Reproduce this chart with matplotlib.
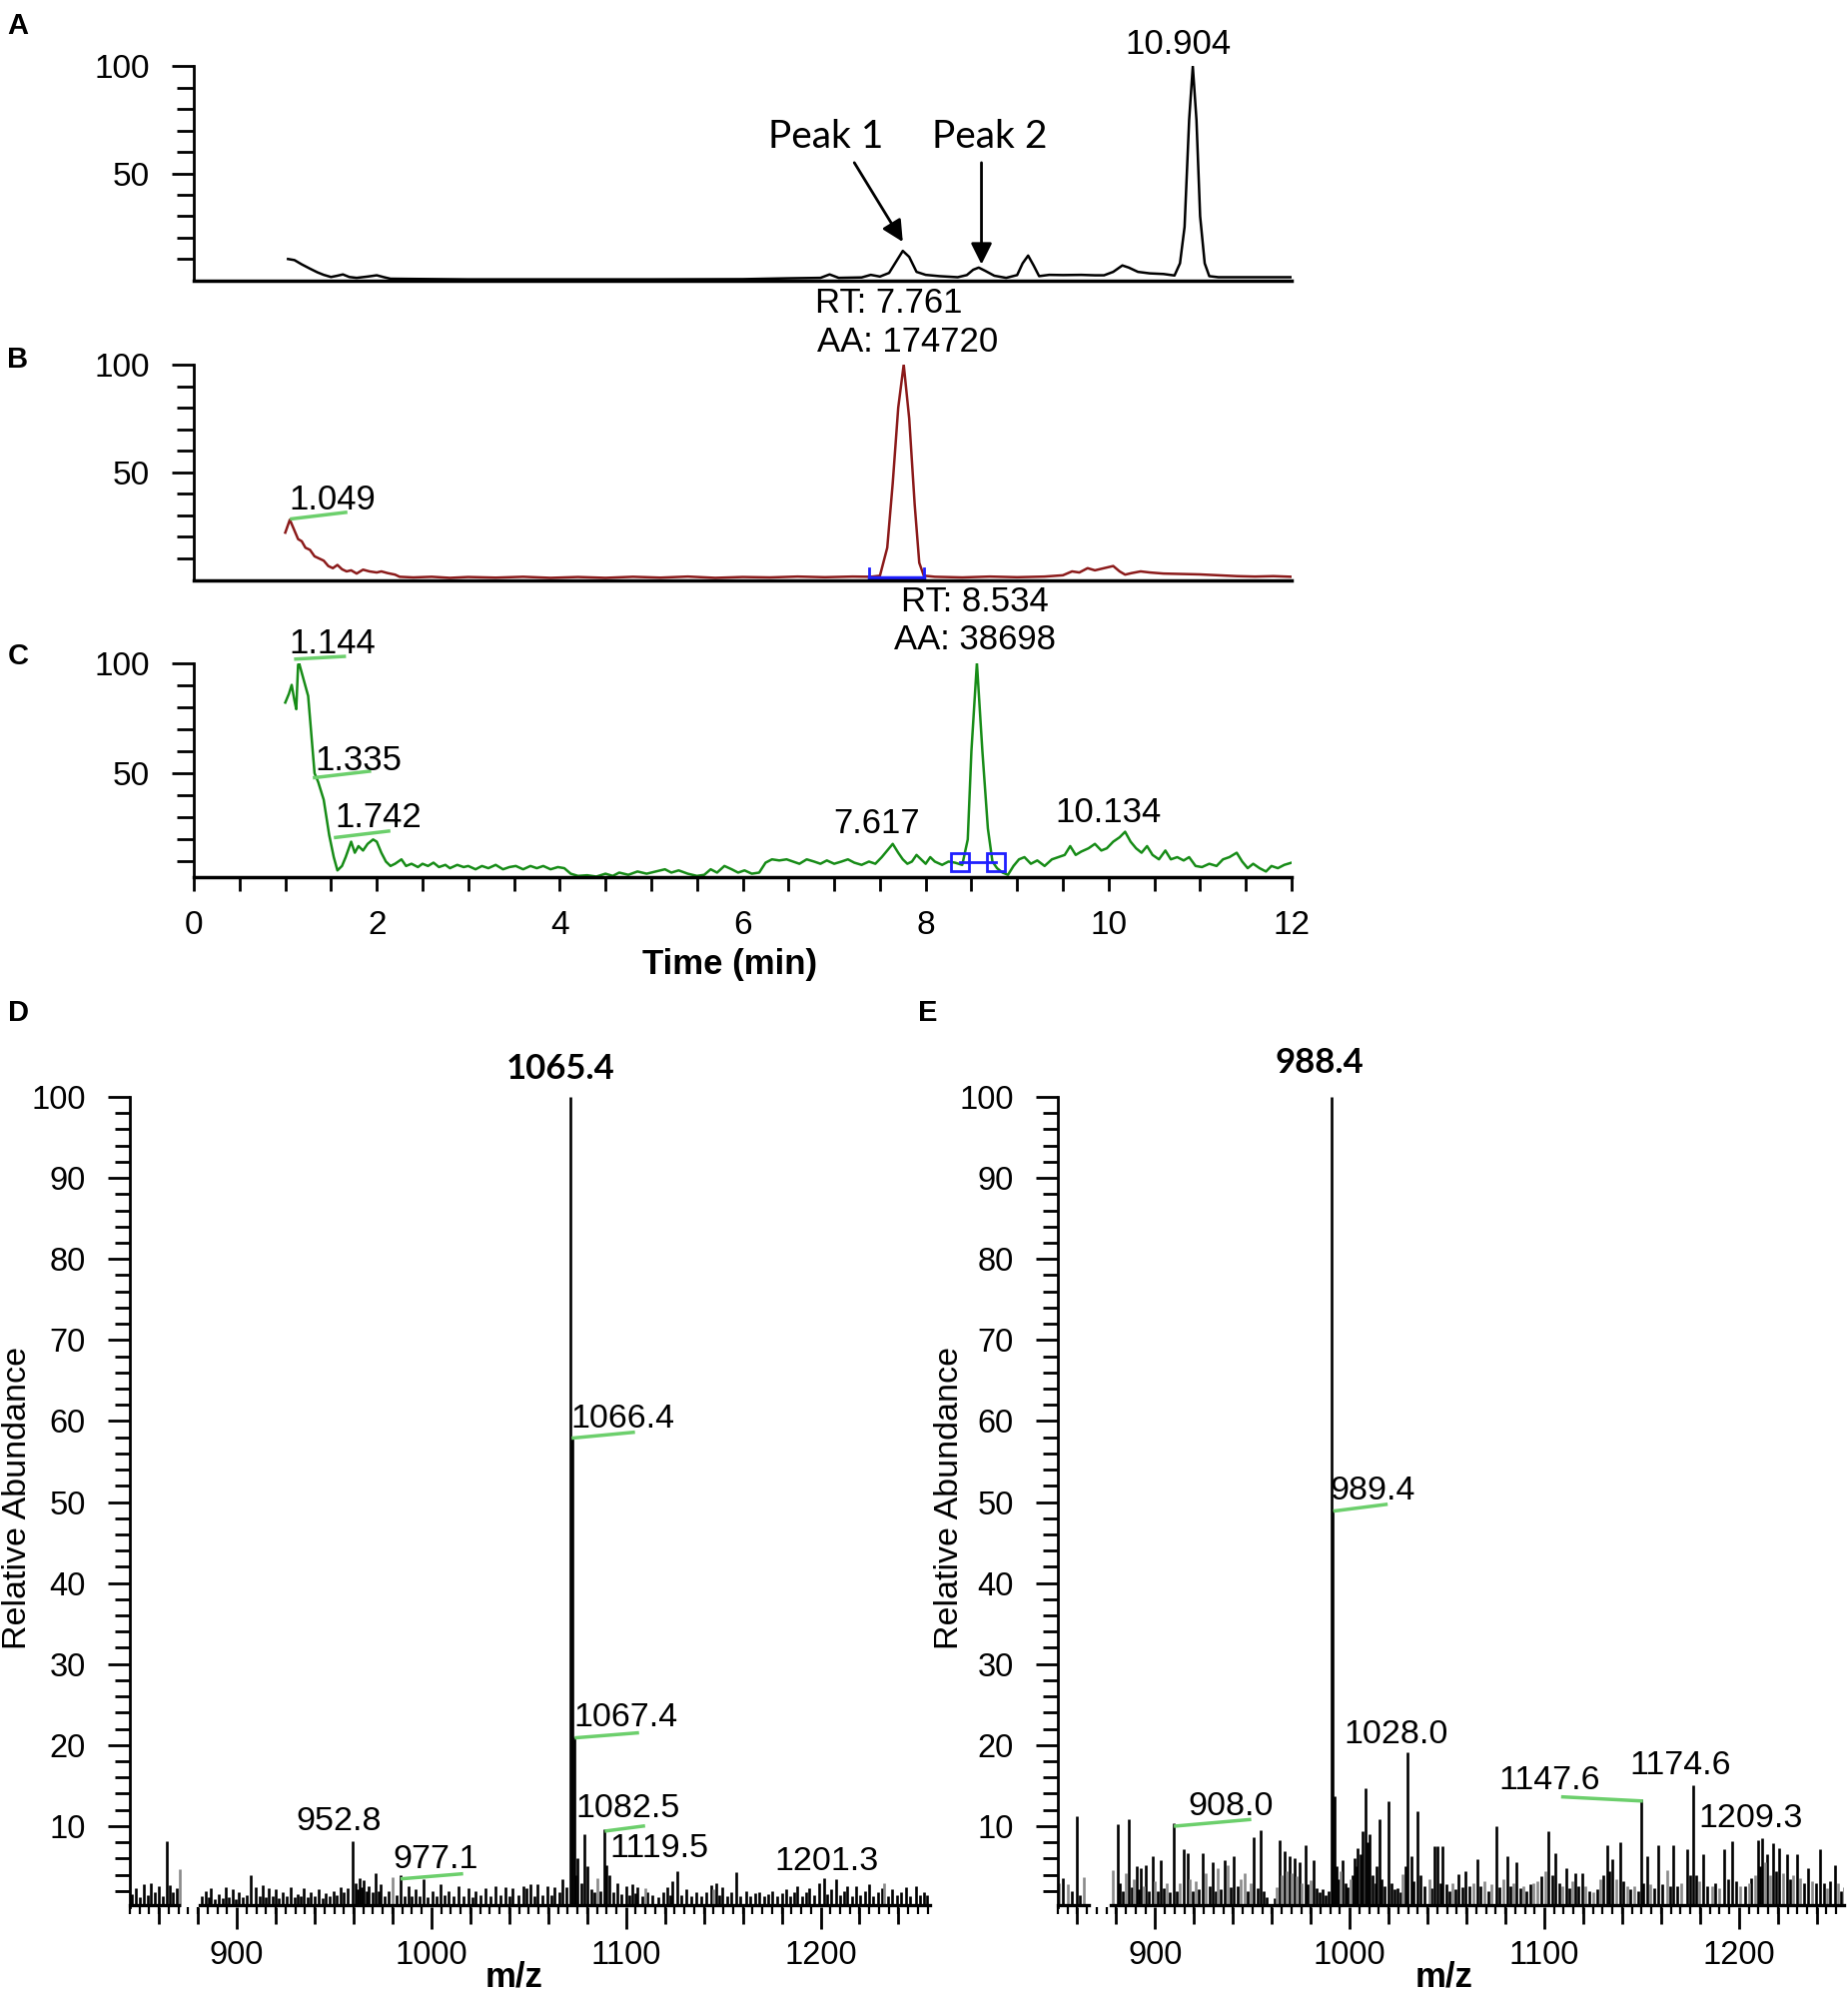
import matplotlib
matplotlib.use("Agg")
import matplotlib.pyplot as plt
from matplotlib.ticker import FixedLocator, MultipleLocator

plt.rcParams['font.family'] = ['Liberation Sans', 'DejaVu Sans']

# --- chromatogram A (total ion, black) : (time min, relative intensity)
a_trace = [
    (1.03, 10), (1.10, 9.5), (1.18, 7.5), (1.27, 5.5), (1.35, 3.8), (1.42, 2.6),
    (1.50, 1.6), (1.57, 2.2), (1.63, 2.8), (1.70, 1.6), (1.78, 1.2), (1.90, 1.8),
    (2.00, 2.4), (2.08, 1.5), (2.15, 0.8), (2.4, 0.7), (3.0, 0.5), (4.0, 0.5),
    (5.0, 0.5), (6.0, 0.6), (6.5, 1.0), (6.85, 1.2), (6.95, 2.8), (7.05, 1.2),
    (7.30, 1.4), (7.40, 2.6), (7.50, 1.8), (7.60, 3.5), (7.68, 9), (7.75, 13.8),
    (7.82, 11), (7.90, 4), (8.00, 2.6), (8.15, 2.0), (8.35, 1.5), (8.45, 2.5),
    (8.52, 5), (8.58, 6), (8.65, 4.5), (8.75, 2.2), (8.88, 1.2), (9.00, 2.5),
    (9.06, 8), (9.12, 11.6), (9.18, 7), (9.24, 2), (9.35, 2.6), (9.5, 2.5),
    (9.7, 2.6), (9.85, 2.4), (9.95, 2.4), (10.05, 4), (10.15, 7), (10.22, 6),
    (10.32, 4), (10.45, 3.3), (10.6, 3.0), (10.72, 2.3), (10.78, 8), (10.83, 25),
    (10.88, 75), (10.92, 100), (10.96, 75), (11.00, 30), (11.05, 8), (11.10, 2),
    (11.2, 1.5), (11.6, 1.5), (12.0, 1.5),
]

# --- chromatogram B (red)
b_trace = [
    (1.00, 22), (1.05, 28), (1.10, 23), (1.14, 19), (1.18, 18), (1.22, 15),
    (1.27, 14), (1.32, 11), (1.37, 10), (1.42, 9), (1.47, 6.5), (1.52, 5.5),
    (1.57, 7), (1.62, 5), (1.67, 4), (1.72, 4.5), (1.78, 3), (1.85, 4.8),
    (1.92, 4), (2.00, 3.5), (2.05, 4), (2.12, 3.2), (2.20, 2.5), (2.25, 1.5),
    (2.4, 1.2), (2.6, 1.5), (2.8, 1.0), (3.0, 1.4), (3.3, 1.1), (3.6, 1.5),
    (3.9, 1.0), (4.2, 1.4), (4.5, 1.0), (4.8, 1.5), (5.1, 1.1), (5.4, 1.6),
    (5.7, 1.0), (6.0, 1.4), (6.3, 1.2), (6.6, 1.6), (6.9, 1.3), (7.2, 1.6),
    (7.40, 1.5), (7.50, 2), (7.58, 15), (7.64, 45), (7.70, 80), (7.76, 100),
    (7.82, 75), (7.88, 35), (7.93, 8), (7.98, 2), (8.1, 1.5), (8.4, 1.2),
    (8.7, 1.6), (9.0, 1.3), (9.3, 1.6), (9.5, 2.2), (9.6, 4), (9.68, 3.5),
    (9.77, 5.5), (9.85, 4.5), (9.95, 5.5), (10.05, 6.5), (10.12, 4), (10.18, 2.5),
    (10.25, 3.2), (10.35, 4), (10.45, 3.5), (10.6, 3), (10.8, 2.8), (11.0, 2.6),
    (11.2, 2.2), (11.4, 1.8), (11.6, 1.6), (11.8, 1.8), (12.0, 1.5),
]
b_integration = [7.38, 7.98]

# --- chromatogram C (green)
c_trace = [
    (1.00, 82), (1.04, 86), (1.07, 90), (1.10, 83), (1.12, 79), (1.14, 99),
    (1.15, 100), (1.25, 85), (1.32, 50), (1.36, 46), (1.42, 38), (1.48, 22),
    (1.53, 12), (1.57, 6), (1.62, 8), (1.66, 12), (1.72, 19), (1.76, 14),
    (1.80, 17), (1.85, 15), (1.90, 18), (1.96, 20), (2.00, 19), (2.05, 14),
    (2.10, 10), (2.15, 8), (2.20, 9), (2.27, 11), (2.32, 8), (2.38, 9),
    (2.45, 7.5), (2.50, 9), (2.56, 8), (2.62, 9.5), (2.68, 7.5), (2.75, 8.5),
    (2.80, 7), (2.88, 8.5), (2.95, 7.5), (3.00, 8), (3.08, 6.5), (3.15, 8),
    (3.22, 7), (3.30, 8.5), (3.38, 6.5), (3.45, 7.5), (3.52, 8), (3.60, 6.5),
    (3.68, 8), (3.75, 7), (3.82, 8), (3.90, 6.5), (3.98, 7.5), (4.05, 7),
    (4.12, 4.5), (4.20, 3.5), (4.30, 3.8), (4.40, 3.2), (4.50, 4.5), (4.58, 3.5),
    (4.65, 5), (4.75, 4), (4.85, 5.5), (4.95, 4.5), (5.05, 5.5), (5.15, 6.5),
    (5.22, 5), (5.30, 6), (5.40, 4.5), (5.50, 3.5), (5.58, 4), (5.65, 6.5),
    (5.72, 5), (5.80, 8), (5.88, 6.5), (5.95, 5), (6.02, 6), (6.10, 4.5),
    (6.18, 5), (6.25, 9.5), (6.32, 11), (6.40, 10.5), (6.48, 11), (6.55, 10),
    (6.62, 9), (6.70, 11), (6.78, 10), (6.85, 9), (6.92, 10.5), (7.00, 9),
    (7.08, 10), (7.15, 11), (7.22, 9.5), (7.30, 8.5), (7.38, 10), (7.45, 9),
    (7.52, 12), (7.58, 15), (7.64, 18), (7.70, 14), (7.75, 11), (7.80, 9),
    (7.85, 10), (7.90, 13), (7.95, 11), (8.00, 9), (8.05, 12), (8.10, 10),
    (8.18, 8.5), (8.25, 10), (8.32, 9.5), (8.40, 8.5), (8.46, 20), (8.50, 60),
    (8.56, 100), (8.62, 60), (8.68, 25), (8.73, 10), (8.78, 7), (8.84, 5),
    (8.90, 4), (8.96, 8), (9.02, 11), (9.08, 12), (9.15, 9), (9.22, 10.5),
    (9.30, 8), (9.38, 11), (9.45, 12), (9.52, 13), (9.58, 17), (9.64, 13),
    (9.70, 14.5), (9.78, 16), (9.85, 18), (9.92, 15), (9.98, 16), (10.05, 19),
    (10.12, 21), (10.18, 23.5), (10.24, 19), (10.30, 16), (10.36, 14), (10.42, 17),
    (10.48, 13), (10.55, 11), (10.62, 15), (10.68, 11), (10.75, 12), (10.82, 10.5),
    (10.88, 12), (10.95, 8), (11.02, 7.5), (11.10, 9), (11.18, 8), (11.25, 11),
    (11.32, 12), (11.40, 14), (11.46, 10), (11.52, 7), (11.58, 9), (11.65, 7),
    (11.72, 5.5), (11.78, 8), (11.85, 7), (11.92, 8.5), (12.00, 9.5),
]
c_integration = [(8.37, 9.9), (8.77, 9.9)]

# --- mass spectrum D : (m/z, relative abundance)
d_sticks = [
    (846, 1.6), (848, 2.4), (850, 1.2), (852, 2.8), (854, 1.5), (856, 3.0),
    (858, 1.8), (860, 2.6), (862, 1.4), (863.8, 8.1), (865.5, 2.7), (867, 1.9),
    (869, 2.4),
    (882, 1.4), (884, 2.0), (885.5, 1.2), (886.6, 2.3), (888.5, 1.0), (890.9, 1.6),
    (892.5, 1.1), (894.3, 2.5), (896, 1.2), (897.7, 2.2), (899.5, 1.0), (901.1, 1.8),
    (903, 1.2), (905, 1.5), (907.1, 4.0), (909.7, 2.5), (911.5, 1.3), (913.1, 2.7),
    (915, 1.2), (916.5, 2.3), (918.3, 1.4), (919.9, 2.2), (921.5, 1.1), (923.4, 1.9),
    (925.5, 1.3), (927.6, 2.5), (929.5, 1.2), (931.1, 1.6), (933, 1.3), (934.5, 2.3),
    (936.2, 1.2), (937.9, 1.8), (940, 1.3), (942.2, 2.2), (944, 1.1), (945.6, 1.7),
    (947.8, 1.4), (949.9, 2.0), (951.5, 1.5), (953.3, 2.5), (955, 1.8), (956.7, 2.4),
    (959.3, 8.1), (961, 3.0), (962, 2.2), (963.1, 3.6), (964.2, 2.5), (965.3, 3.3),
    (966.5, 2.0), (967.9, 2.6), (969.5, 1.8), (971.3, 4.2), (972.6, 2.0), (973.9, 2.8),
    (976, 1.4), (978, 2.0), (982, 1.5), (984.2, 4.0), (986.3, 1.4), (988.4, 2.6),
    (990, 1.3), (991.8, 2.2), (994, 1.4), (996.1, 3.5), (998, 1.2), (1000.4, 2.0),
    (1002.5, 1.3), (1004.7, 2.8), (1006.8, 1.5), (1009, 2.0), (1011.5, 1.3), (1014.1, 2.6),
    (1016.5, 1.4), (1019.2, 2.4), (1021, 1.2), (1022.7, 2.0), (1025, 1.5), (1027.8, 2.4),
    (1030.5, 1.3), (1033, 2.6), (1035.5, 1.5), (1038.1, 2.5), (1040, 1.3), (1041.5, 2.3),
    (1044.5, 1.5), (1047.5, 2.6), (1048.6, 2.3), (1050.9, 2.8), (1052.8, 1.4), (1054.6, 2.8),
    (1057, 1.5), (1059.8, 2.6), (1061.5, 1.5), (1063.2, 2.5), (1065.5, 1.8), (1067.5, 3.5),
    (1069.5, 2.5), (1071.5, 100), (1072.3, 58), (1073.2, 21), (1074, 4), (1075.2, 6.1),
    (1076.8, 3.0), (1078.6, 9.0), (1080.3, 5.0), (1082, 2.2), (1083.5, 1.8), (1087, 2.0),
    (1088.9, 9.6), (1090.1, 5.2), (1091.5, 3.9), (1093.5, 1.8), (1095.7, 3.0), (1097.8, 1.6),
    (1100, 2.6), (1101.7, 1.5), (1103.4, 2.8), (1104.8, 1.7), (1106, 2.5), (1108.5, 1.3),
    (1111, 1.9), (1113.7, 1.5), (1116.5, 1.2), (1119, 1.8), (1121.4, 2.5), (1122.8, 1.5),
    (1124, 3.2), (1126.5, 4.5), (1128.5, 1.5), (1130.8, 2.2), (1133.3, 1.3), (1135.9, 1.8),
    (1138.5, 1.4), (1141, 1.9), (1143.6, 2.7), (1146.2, 2.9), (1148, 1.5), (1149.6, 2.5),
    (1152, 1.3), (1154, 1.8), (1156.4, 4.3), (1158.8, 1.4), (1161.6, 2.0), (1164, 1.3),
    (1166.2, 1.7), (1168.5, 1.8), (1171, 1.3), (1173, 1.6), (1175.3, 2.0), (1177.6, 1.3),
    (1180, 1.7), (1182.1, 2.2), (1184.5, 1.4), (1186.3, 1.8), (1188.1, 2.6), (1190.5, 1.4),
    (1192.3, 1.9), (1194.1, 2.4), (1196.5, 1.5), (1199.3, 3.0), (1201.8, 3.6), (1203.5, 1.6),
    (1205.5, 2.2), (1207.8, 3.4), (1210, 1.5), (1212, 2.0), (1213.8, 2.6), (1216, 1.4),
    (1218.1, 2.6), (1220.5, 1.5), (1222.8, 2.0), (1224.9, 2.8), (1227, 1.4), (1229.5, 1.9),
    (1231.8, 2.4), (1234.5, 1.3), (1236.9, 2.2), (1239.5, 1.5), (1241.5, 1.8), (1243.8, 2.5),
    (1246, 1.4), (1248.9, 2.6), (1251, 1.5), (1253, 1.9), (1254.9, 1.5),
]
d_gray = [(870.8, 4.7), (979.9, 3.7), (1085.4, 3.6), (1110, 2.4), (1145, 2.2), (1232.8, 3.0)]
d_baseline = [(845, 870), (881, 1256)]

# --- mass spectrum E
e_sticks = [
    (852.4, 3.6), (857, 2.0), (859.6, 11.2), (861.5, 1.5),
    (880.7, 10.2), (882, 3.0), (883.5, 2.0), (886.3, 10.8), (887.8, 2.5), (890.5, 5.0),
    (891.5, 2.2), (892.6, 4.8), (895.2, 5.2), (896.8, 2.0), (898.6, 6.3), (901.5, 2.0),
    (902.9, 5.8), (904.5, 2.4), (907.5, 1.8), (909.3, 10.4), (911, 2.0), (914.9, 7.1),
    (916.6, 6.7), (919.5, 2.0), (922.5, 2.2), (924.3, 6.7), (927.8, 2.6), (929.5, 5.6),
    (931, 2.0), (933.8, 2.2), (935.5, 5.8), (939, 2.5), (940.6, 6.3), (942.5, 2.6),
    (947.5, 2.0), (950.4, 8.6), (952.5, 2.4), (954.3, 9.5), (956, 2.0), (957.5, 1.2),
    (961.3, 1.1), (963.8, 8.3), (966.3, 6.9), (968.9, 6.3), (971.5, 6.1), (974, 5.6),
    (977.1, 7.6), (978.5, 2.8), (981.4, 5.8), (983, 2.4), (984.5, 1.8), (986, 2.2),
    (987.5, 1.5), (989, 2.0), (990.8, 100), (991.3, 49), (992.1, 13.7), (993, 5.0),
    (994, 3.5), (996.4, 5.8), (997.6, 3.0), (999, 2.5), (1001.5, 4.0), (1002.4, 6.1),
    (1003.3, 5.0), (1004.1, 7.3), (1005.4, 6.5), (1006.7, 9.4), (1008, 14.7), (1009, 8.0),
    (1010.1, 9.0), (1011.5, 4.0), (1013, 3.0), (1014, 5.0), (1015.2, 10.8), (1016.5, 3.5),
    (1018, 2.6), (1020, 13.1), (1021.5, 3.0), (1023, 2.2), (1024.6, 2.4), (1026, 1.8),
    (1028.5, 5.0), (1029.8, 19.1), (1031.5, 6.3), (1033, 3.2), (1034.9, 11.8), (1036.5, 4.0),
    (1038.5, 2.6), (1042, 2.4), (1043.5, 7.5), (1045.2, 7.5), (1046.5, 3.0), (1047.8, 7.5),
    (1049.5, 2.8), (1051, 2.0), (1054.3, 2.2), (1056.1, 4.1), (1057.8, 2.5), (1059.5, 4.4),
    (1061.5, 2.6), (1065.5, 5.9), (1067.3, 2.6), (1071, 2.0), (1075.2, 10.0), (1077, 2.5),
    (1080.9, 6.3), (1082.5, 2.6), (1085.5, 5.6), (1087.5, 2.4), (1091, 2.0), (1092.7, 2.8),
    (1098.5, 3.8), (1102.3, 9.4), (1104, 4.0), (1105.7, 6.7), (1107.5, 3.0), (1111.4, 4.8),
    (1113, 2.4), (1116, 4.2), (1117.7, 2.6), (1119.4, 4.2), (1123, 2.0), (1127, 2.2),
    (1130.5, 4.0), (1132.2, 7.6), (1133.5, 4.5), (1135.1, 5.9), (1139.1, 8.0), (1140.8, 3.2),
    (1144, 2.2), (1148.5, 2.0), (1149.8, 13.3), (1151, 3.0), (1152.7, 6.3), (1156.5, 2.4),
    (1158.7, 7.6), (1160.5, 2.8), (1164.8, 2.6), (1166.4, 7.6), (1168.5, 2.6), (1173.3, 7.2),
    (1175, 4.0), (1176.7, 15.0), (1178, 4.0), (1181.8, 6.5), (1183.5, 2.6), (1188, 3.0),
    (1192.6, 7.1), (1194.5, 3.5), (1196.7, 8.1), (1198.5, 3.2), (1203.2, 2.6), (1206.5, 3.6),
    (1210, 8.3), (1211, 5.0), (1212.1, 8.5), (1214.3, 6.5), (1217.7, 7.9), (1219, 4.5),
    (1220.6, 7.3), (1224.6, 6.5), (1226.5, 3.5), (1229.7, 6.5), (1233.5, 3.0), (1235.7, 4.8),
    (1239.5, 3.0), (1241.7, 7.2), (1243.5, 3.0), (1247, 3.2), (1249.4, 5.2), (1252.5, 2.0),
]
e_gray = [
    (850.5, 3.0), (855, 2.8), (863.6, 3.7), (878.4, 4.6), (884.8, 4.2), (889, 3.5),
    (894, 2.6), (900, 3.2), (906, 3.0), (912.5, 3.0), (918, 3.4), (921, 3.2),
    (926.1, 4.2), (932.1, 4.8), (937.2, 5.2), (944, 3.4), (945.8, 4.2), (949, 3.0),
    (962.5, 2.5), (965, 4.0), (967.6, 4.5), (970.2, 4.2), (972.8, 3.8), (975.5, 3.0),
    (980, 3.3), (995.2, 4.5), (1000.5, 3.5), (1027.2, 4.1), (1040.9, 3.4), (1052.6, 3.0),
    (1063.5, 3.0), (1069, 3.2), (1073, 2.8), (1079, 3.5), (1084, 3.0), (1089.4, 2.6),
    (1094.5, 3.0), (1096.5, 3.2), (1100.5, 4.5), (1109.3, 2.6), (1114.5, 3.2), (1121, 2.6),
    (1125, 1.8), (1128.8, 3.5), (1137, 3.4), (1142.5, 2.6), (1146, 2.6), (1154.5, 2.8),
    (1163, 4.6), (1170.5, 3.0), (1179.5, 3.2), (1186.1, 2.6), (1190, 2.4), (1200.5, 2.6),
    (1205, 3.0), (1208.2, 4.0), (1213.2, 5.5), (1216, 4.0), (1222.5, 4.2), (1228, 4.0),
    (1231.5, 3.6), (1237.5, 3.2), (1245.5, 2.4), (1251, 3.0), (1254, 2.5),
]
e_baseline = [(850, 866), (877, 1254)]

W, H = 1850, 1998
fig = plt.figure(figsize=(W / 100, H / 100), dpi=100)


def px_axes(left, top, right, bottom):
    return fig.add_axes([left / W, 1 - bottom / H, (right - left) / W, (bottom - top) / H])


def chrom_axes(top, bottom, ymin):
    ax = px_axes(194, top, 1293, bottom)
    ax.set_xlim(0, 12)
    ax.set_ylim(ymin, 100)
    ax.spines['top'].set_visible(False)
    ax.spines['right'].set_visible(False)
    ax.spines['left'].set_linewidth(2)
    ax.spines['bottom'].set_linewidth(2.5)
    ax.yaxis.set_major_locator(FixedLocator([50, 100]))
    ax.yaxis.set_minor_locator(FixedLocator([10, 20, 30, 40, 60, 70, 80, 90]))
    ax.tick_params(axis='y', which='major', direction='out', length=16, width=2,
                   labelsize=24, pad=16)
    ax.tick_params(axis='y', which='minor', direction='out', length=12, width=2)
    return ax


def spec_axes(left, right, xmin, xmax):
    ax = px_axes(left, 1098, right, 1909)
    ax.set_xlim(xmin, xmax)
    ax.set_ylim(0, 100)
    for s in ('top', 'right', 'bottom'):
        ax.spines[s].set_visible(False)
    ax.spines['left'].set_linewidth(2)
    ax.yaxis.set_major_locator(MultipleLocator(10))
    ax.yaxis.set_minor_locator(FixedLocator([v for v in range(2, 100, 2) if v % 10]))
    ax.set_yticks([10, 20, 30, 40, 50, 60, 70, 80, 90, 100])
    ax.xaxis.set_major_locator(FixedLocator([900, 1000, 1100, 1200]))
    ax.xaxis.set_minor_locator(MultipleLocator(5))
    ax.tick_params(axis='y', which='major', direction='out', length=16, width=2,
                   labelsize=23.5, pad=16)
    ax.tick_params(axis='y', which='minor', direction='out', length=11, width=2)
    ax.tick_params(axis='x', which='major', direction='out', length=16, width=2,
                   labelsize=23.5, pad=8)
    ax.tick_params(axis='x', which='minor', direction='out', length=5, width=1.6)
    # medium ticks every 20 m/z units
    sec = ax.secondary_xaxis('bottom')
    sec.spines['bottom'].set_visible(False)
    sec.set_xticks([v for v in range(860, 1260, 20) if v % 100])
    sec.set_xticklabels([])
    sec.tick_params(axis='x', direction='out', length=12, width=2)
    return ax


green_lbl = '#6ccf6c'
txt = dict(fontsize=25, ha='center', va='center')

# ---------------- A
ax = chrom_axes(66.4, 280.7, 0)
t, i = zip(*a_trace)
ax.plot(t, i, color='k', lw=1.8)
ax.set_xticks([])
ax.text(10.76, 110, '10.904', **txt)
ax.text(6.91, 67, 'Peak 1', fontsize=28, family=['Lato', 'DejaVu Sans'], ha='center', va='center')
ax.text(8.70, 67, 'Peak 2', fontsize=28, family=['Lato', 'DejaVu Sans'], ha='center', va='center')
arrow = dict(arrowstyle='-|>', color='k', lw=2, mutation_scale=32, shrinkA=0, shrinkB=0)
ax.annotate('', xy=(7.75, 18), xytext=(7.22, 55), arrowprops=arrow)
ax.annotate('', xy=(8.61, 7.5), xytext=(8.61, 55), arrowprops=arrow)

# ---------------- B
ax = chrom_axes(365, 580.6, 0)
t, i = zip(*b_trace)
ax.plot(t, i, color='#8b1a1a', lw=1.8)
ax.plot(b_integration, [1, 1], color='#1f1fff', lw=2.5)
for x0 in b_integration:
    ax.plot([x0, x0], [0.5, 5.5], color='#1f1fff', lw=2)
ax.set_xticks([])
ax.plot([1.07, 1.66], [28.4, 31.4], color=green_lbl, lw=2.5)
ax.text(1.51, 37.3, '1.049', **txt)
ax.text(7.6, 128.4, 'RT: 7.761', **txt)
ax.text(7.8, 110.6, 'AA: 174720', **txt)

# ---------------- C
ax = chrom_axes(663.5, 877.9, 3)
t, i = zip(*c_trace)
ax.plot(t, i, color='#178c17', lw=1.8)
cx, cy = zip(*c_integration)
ax.plot(cx, cy, color='#1f1fff', lw=2, marker='s', ms=13, mfc='none', mec='#1f1fff', mew=2)
ax.xaxis.set_major_locator(MultipleLocator(2))
ax.xaxis.set_minor_locator(MultipleLocator(0.5))
ax.tick_params(axis='x', which='both', direction='out', length=10, width=2,
               labelsize=24, pad=14)
for (x0, x1, y0, y1) in [(1.115, 1.645, 101.7, 102.9), (1.32, 1.92, 48, 50.9),
                         (1.55, 2.13, 20.9, 23.8)]:
    ax.plot([x0, x1], [y0, y1], color=green_lbl, lw=2.5, clip_on=False)
ax.text(1.52, 108.7, '1.144', **txt)
ax.text(1.80, 55.5, '1.335', **txt)
ax.text(2.02, 30, '1.742', **txt)
ax.text(7.46, 27, '7.617', **txt)
ax.text(10.0, 32, '10.134', **txt)
ax.text(8.54, 127.7, 'RT: 8.534', **txt)
ax.text(8.54, 110.4, 'AA: 38698', **txt)
fig.text(731 / W, 1 - 966 / H, 'Time (min)', fontsize=25, fontweight='bold',
         ha='center', va='center')

# ---------------- D
ax = spec_axes(130, 930.6, 845, 1256)
m, a = zip(*d_sticks)
ax.vlines(m, 0, a, color='k', lw=1.9)
m, a = zip(*d_gray)
ax.vlines(m, 0, a, color='#8a8a8a', lw=1.9)
for x0, x1 in d_baseline:
    ax.plot([x0, x1], [0.3, 0.3], color='k', lw=2.4, clip_on=False)
spec_txt = dict(fontsize=24.5, va='center')
ax.text(1066.5, 103.4, '1065.4', fontsize=25, fontweight='bold',
        family=['Lato', 'DejaVu Sans'], ha='center', va='center')
ax.text(1071.7, 60.2, '1066.4', ha='left', **spec_txt)
ax.plot([1072.9, 1103.7], [57.9, 58.6], color=green_lbl, lw=2.5)
ax.text(1072.9, 23.4, '1067.4', ha='left', **spec_txt)
ax.plot([1074.5, 1105.8], [20.9, 21.5], color=green_lbl, lw=2.5)
ax.text(1073.9, 12.2, '1082.5', ha='left', **spec_txt)
ax.plot([1089.9, 1108.9], [9.4, 10.0], color=green_lbl, lw=2.5)
ax.text(1091.4, 7.2, '1119.5', ha='left', **spec_txt)
ax.text(1203.3, 5.6, '1201.3', ha='center', **spec_txt)
ax.text(952.5, 10.6, '952.8', ha='center', **spec_txt)
ax.text(1002, 5.8, '977.1', ha='center', **spec_txt)
ax.plot([985, 1015.4], [3.5, 4.1], color=green_lbl, lw=2.5)

# ---------------- E
ax = spec_axes(1059, 1846, 850, 1254)
m, a = zip(*e_sticks)
ax.vlines(m, 0, a, color='k', lw=1.9)
m, a = zip(*e_gray)
ax.vlines(m, 0, a, color='#8a8a8a', lw=1.9)
for x0, x1 in e_baseline:
    ax.plot([x0, x1], [0.3, 0.3], color='k', lw=2.4, clip_on=False)
ax.text(984.5, 104.2, '988.4', fontsize=25, fontweight='bold',
        family=['Lato', 'DejaVu Sans'], ha='center', va='center')
ax.text(989.8, 51.3, '989.4', ha='left', **spec_txt)
ax.plot([992.4, 1018.6], [48.9, 49.7], color=green_lbl, lw=2.5)
ax.text(1023.8, 21.3, '1028.0', ha='center', **spec_txt)
ax.text(938.7, 12.4, '908.0', ha='center', **spec_txt)
ax.plot([910.5, 948.5], [10.0, 10.8], color=green_lbl, lw=2.5)
ax.text(1102.4, 15.6, '1147.6', ha='center', **spec_txt)
ax.plot([1109.5, 1149.8], [13.6, 13.1], color=green_lbl, lw=2.5)
ax.text(1169.9, 17.5, '1174.6', ha='center', **spec_txt)
ax.text(1179.0, 10.9, '1209.3', ha='left', **spec_txt)

# axis titles and panel letters
for x in (18, 951):
    fig.text(x / W, 1 - 1499 / H, 'Relative Abundance', fontsize=24.5, rotation=90,
             ha='center', va='center')
for x in (515, 1446):
    fig.text(x / W, 1 - 1979 / H, 'm/z', fontsize=25, fontweight='bold',
             ha='center', va='center')
for letter, x, y in [('A', 18, 26), ('B', 18, 360), ('C', 18, 657), ('D', 18, 1014),
                     ('E', 929, 1014)]:
    fig.text(x / W, 1 - y / H, letter, fontsize=21, fontweight='bold',
             ha='center', va='center')

fig.savefig('out.png', dpi=100)
